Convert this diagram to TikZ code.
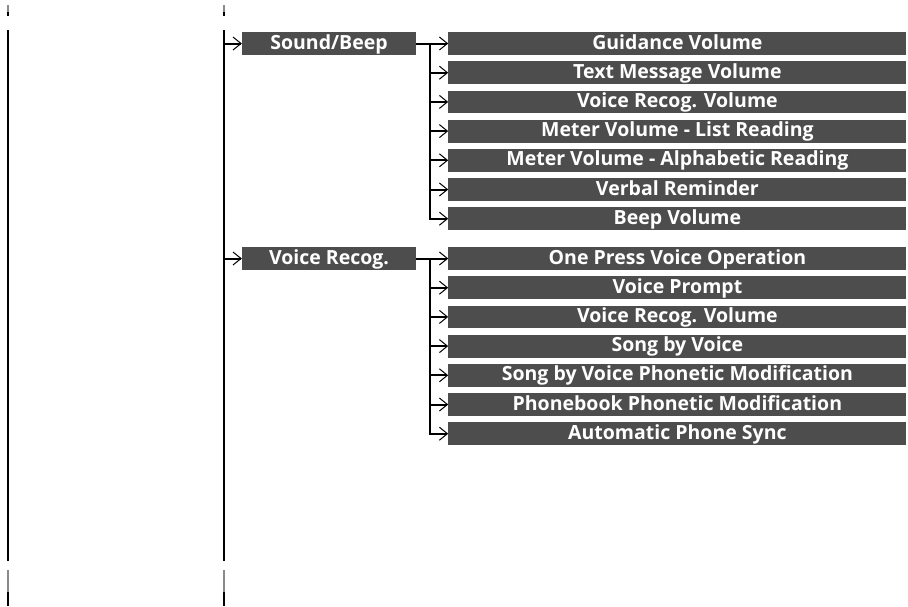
\documentclass[tikz,border=0pt]{standalone}
\usepackage{fontspec}
\setsansfont{Open Sans}
\usetikzlibrary{arrows.meta,positioning}
\definecolor{menugray}{HTML}{4D4D4D}
\definecolor{markgray}{HTML}{8A8A8A}
\tikzset{
  menubox/.style={fill=menugray, text=white, inner sep=0pt, minimum height=22.8pt, text height=14pt, text depth=2.8pt, font=\sffamily\bfseries\fontsize{19.5}{21}\selectfont},
  mainbox/.style={menubox, minimum width=174pt},
  itembox/.style={menubox, minimum width=458pt},
  trunk/.style={line width=2pt},
  arrow/.style={line width=2pt, -{Straight Barb[length=8pt,width=13pt,line width=1pt]}},
  cropmark/.style={line width=2pt}
}
\begin{document}
\begin{tikzpicture}[x=1pt, y=-1pt, node distance=6pt]
\useasboundingbox (0,0) rectangle (908,606);
% crop marks
\foreach \xm in {8,224} {
  \draw[cropmark, markgray] (\xm,5) -- (\xm,12);
  \draw[cropmark] (\xm,12) -- (\xm,16);
  \draw[cropmark, markgray] (\xm,570) -- (\xm,592);
  \draw[cropmark] (\xm,592) -- (\xm,606);
}
% trunks
\coordinate (lt) at (8,30);
\coordinate (lb) at (8,561);
\coordinate (mt) at (224,30);
\coordinate (mb) at (224,561);
\draw[trunk] (lt) -- (lb);
\draw[trunk] (mt) -- (mb);
% Sound/Beep
\node[mainbox] (sb) at (329,43.5) {Sound/Beep};
\node[itembox, right=32pt of sb] (sb1) {Guidance Volume};
\node[itembox, below=of sb1] (sb2) {Text Message Volume};
\node[itembox, below=of sb2] (sb3) {Voice Recog. Volume};
\node[itembox, below=of sb3] (sb4) {Meter Volume - List Reading};
\node[itembox, below=of sb4] (sb5) {Meter Volume - Alphabetic Reading};
\node[itembox, below=of sb5] (sb6) {Verbal Reminder};
\node[itembox, below=of sb6] (sb7) {Beep Volume};
% Voice Recog.
\node[mainbox] (vr) at (329,258.5) {Voice Recog.};
\node[itembox, right=32pt of vr] (vr1) {One Press Voice Operation};
\node[itembox, below=of vr1] (vr2) {Voice Prompt};
\node[itembox, below=of vr2] (vr3) {Voice Recog. Volume};
\node[itembox, below=of vr3] (vr4) {Song by Voice};
\node[itembox, below=of vr4] (vr5) {Song by Voice Phonetic Modification};
\node[itembox, below=of vr5] (vr6) {Phonebook Phonetic Modification};
\node[itembox, below=of vr6] (vr7) {Automatic Phone Sync};
% connectors
\foreach \m in {sb,vr} {
  \draw[arrow] (\m.west -| mt) -- (\m.west);
  \coordinate (\m b) at ([xshift=14pt]\m.east);
  \draw[trunk] (\m.east) -- (\m b) |- ([xshift=-1pt]\m7.west);
  \foreach \i in {1,...,7}
    \draw[arrow] (\m\i.west -| \m b) -- (\m\i.west);
}
\end{tikzpicture}
\end{document}
